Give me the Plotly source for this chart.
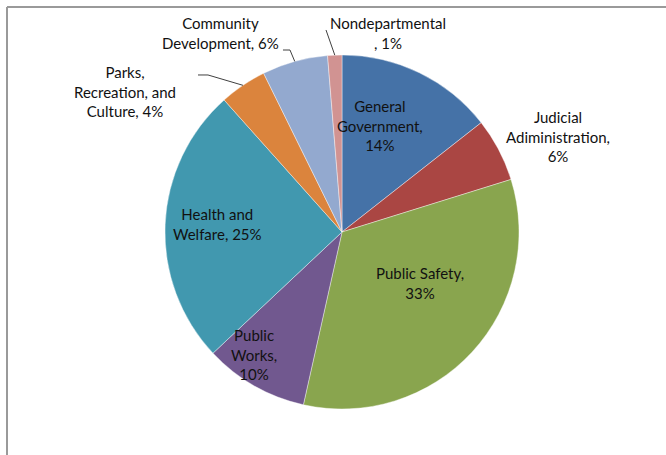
"""Expenditures by function pie chart."""

import math

import plotly.graph_objects as go

W, H = 666, 455

CATEGORIES = [
    "General Government",
    "Judicial Adiministration",
    "Public Safety",
    "Public Works",
    "Health and Welfare",
    "Parks, Recreation, and Culture",
    "Community Development",
    "Nondepartmental",
]
SHARES = [14.4, 5.8, 33.3, 9.5, 25.4, 4.3, 6.0, 1.3]
COLORS = ["#4572A7", "#AA4643", "#89A54E", "#71588F", "#4198AF", "#DB843D", "#93A9CF", "#D19392"]
LABELS = [
    "General<br>Government,<br>14%",
    "Judicial<br>Adiministration,<br>6%",
    "Public Safety,<br>33%",
    "Public<br>Works,<br>10%",
    "Health and<br>Welfare, 25%",
    "Parks,<br>Recreation, and<br>Culture, 4%",
    "Community<br>Development, 6%",
    "Nondepartmental<br>, 1%",
]
# label centres in pixels (x, y from top)
LABEL_POS = [(380, 125), (558, 136), (420, 283), (254, 354), (217, 224), (125, 92), (220, 33), (388, 33)]
# leader lines start at the label, end on the slice edge: index -> label-side points
LEADERS = {5: [(198, 75), (208, 75)], 6: [(283, 50), (290, 50)], 7: [(326, 30)]}

# pie geometry in pixels
CX, CY, R = 342, 232, 177


def px(x, y):
    return x / W, 1 - y / H


def edge_point(i):
    total = sum(SHARES)
    start = sum(SHARES[:i]) / total
    mid = (start + SHARES[i] / total / 2) * 2 * math.pi
    return CX + R * math.sin(mid), CY - R * math.cos(mid)


fig = go.Figure(
    go.Pie(
        labels=CATEGORIES,
        values=SHARES,
        sort=False,
        direction="clockwise",
        rotation=0,
        textinfo="none",
        hoverinfo="label+percent",
        marker={"colors": COLORS, "line": {"color": "white", "width": 0.4}},
        domain={"x": [(CX - R) / W, (CX + R) / W], "y": [1 - (CY + R) / H, 1 - (CY - R) / H]},
        showlegend=False,
    )
)

for text, (x, y) in zip(LABELS, LABEL_POS):
    ax, ay = px(x, y)
    fig.add_annotation(
        x=ax, y=ay, xref="paper", yref="paper", text=text, showarrow=False,
        align="center", xanchor="center", yanchor="middle",
        font={"family": "Lato, Carlito, sans-serif", "size": 15, "color": "#111111"},
    )

for i, pts in LEADERS.items():
    path_pts = [px(*p) for p in pts + [edge_point(i)]]
    path = "M " + " L ".join(f"{x:.4f},{y:.4f}" for x, y in path_pts)
    fig.add_shape(type="path", path=path, xref="paper", yref="paper",
                  line={"color": "#404040", "width": 1})

# chart frame (top and left edges visible)
fig.add_shape(type="line", xref="paper", yref="paper", x0=7 / W, x1=1, y0=1 - 7 / H, y1=1 - 7 / H,
              line={"color": "#9a9a9a", "width": 2})
fig.add_shape(type="line", xref="paper", yref="paper", x0=7 / W, x1=7 / W, y0=0, y1=1 - 7 / H,
              line={"color": "#9a9a9a", "width": 2})

fig.update_layout(
    width=W,
    height=H,
    margin={"l": 0, "r": 0, "t": 0, "b": 0},
    paper_bgcolor="white",
    plot_bgcolor="white",
)

# drop the browser's default body margin so the figure sits at the window corner
fig.write_html(
    "out.html",
    config={"displayModeBar": False},
    post_script="document.body.style.margin = '0';",
)
